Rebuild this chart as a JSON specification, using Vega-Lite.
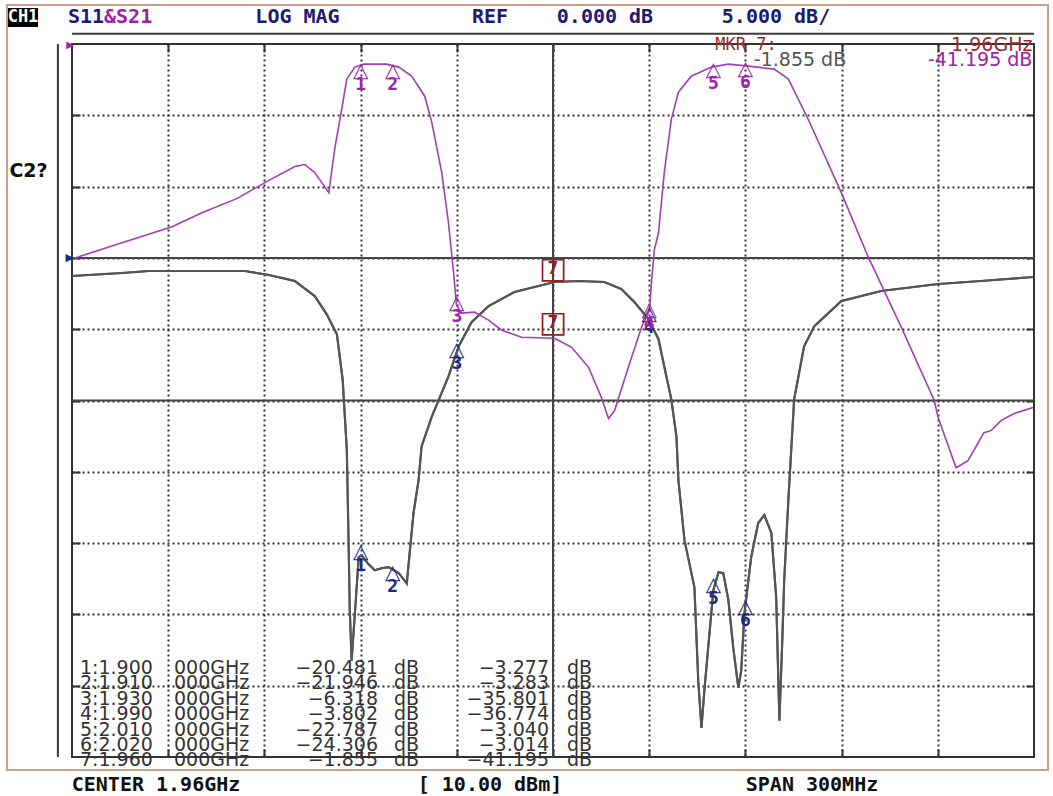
{
  "$schema": "https://vega.github.io/schema/vega-lite/v6.json",
  "width": 962,
  "height": 713,
  "autosize": "none",
  "padding": {"left": 72, "top": 44, "right": 19, "bottom": 39},
  "background": "white",
  "config": {"view": {"stroke": "#333333", "strokeWidth": 2}},
  "datasets": {
    "s11": [
      {"f":1.8100,"db":-1.27},{"f":1.8256,"db":-1.06},{"f":1.8340,"db":-0.92},{"f":1.8639,"db":-0.92},{"f":1.8714,"db":-1.20},{"f":1.8795,"db":-1.62},{"f":1.8857,"db":-2.68},{"f":1.8894,"db":-3.94},{"f":1.8926,"db":-5.35},{"f":1.8944,"db":-8.52},{"f":1.8957,"db":-13.45},{"f":1.8963,"db":-20.49},{"f":1.8966,"db":-24.51},{"f":1.8972,"db":-28.24},{"f":1.8985,"db":-24.01},{"f":1.8994,"db":-20.99},{"f":1.9003,"db":-20.85},{"f":1.9022,"db":-21.41},{"f":1.9044,"db":-21.90},{"f":1.9066,"db":-21.76},{"f":1.9088,"db":-21.69},{"f":1.9119,"db":-22.11},{"f":1.9144,"db":-22.82},{"f":1.9150,"db":-21.41},{"f":1.9165,"db":-17.89},{"f":1.9181,"db":-15.56},{"f":1.9190,"db":-13.24},{"f":1.9222,"db":-11.13},{"f":1.9274,"db":-8.31},{"f":1.9306,"db":-6.20},{"f":1.9346,"db":-4.51},{"f":1.9399,"db":-3.38},{"f":1.9480,"db":-2.39},{"f":1.9605,"db":-1.69},{"f":1.9679,"db":-1.62},{"f":1.9760,"db":-1.69},{"f":1.9813,"db":-2.18},{"f":1.9854,"db":-3.10},{"f":1.9898,"db":-4.30},{"f":1.9929,"db":-5.70},{"f":1.9947,"db":-7.61},{"f":1.9969,"db":-9.93},{"f":1.9985,"db":-12.54},{"f":1.9991,"db":-15.56},{"f":2.0010,"db":-19.79},{"f":2.0041,"db":-23.10},{"f":2.0053,"db":-29.65},{"f":2.0063,"db":-32.96},{"f":2.0072,"db":-30.35},{"f":2.0084,"db":-27.32},{"f":2.0100,"db":-23.31},{"f":2.0116,"db":-22.04},{"f":2.0131,"db":-22.11},{"f":2.0147,"db":-24.01},{"f":2.0162,"db":-27.32},{"f":2.0178,"db":-30.14},{"f":2.0187,"db":-28.94},{"f":2.0197,"db":-24.93},{"f":2.0218,"db":-20.99},{"f":2.0240,"db":-18.59},{"f":2.0259,"db":-18.03},{"f":2.0281,"db":-19.30},{"f":2.0296,"db":-23.80},{"f":2.0306,"db":-32.46},{"f":2.0315,"db":-26.83},{"f":2.0321,"db":-22.61},{"f":2.0334,"db":-16.97},{"f":2.0352,"db":-9.93},{"f":2.0383,"db":-6.20},{"f":2.0415,"db":-4.79},{"f":2.0499,"db":-3.03},{"f":2.0623,"db":-2.32},{"f":2.0801,"db":-1.83},{"f":2.0935,"db":-1.62},{"f":2.1097,"db":-1.34}
    ],
    "s21": [
      {"f":1.8100,"db":-30.14},{"f":1.8256,"db":-27.89},{"f":1.8412,"db":-25.63},{"f":1.8505,"db":-23.66},{"f":1.8614,"db":-21.69},{"f":1.8707,"db":-19.30},{"f":1.8795,"db":-17.18},{"f":1.8826,"db":-16.90},{"f":1.8857,"db":-18.03},{"f":1.8901,"db":-20.85},{"f":1.8919,"db":-14.79},{"f":1.8941,"db":-9.15},{"f":1.8957,"db":-4.93},{"f":1.8982,"db":-3.24},{"f":1.9010,"db":-2.82},{"f":1.9081,"db":-2.82},{"f":1.9119,"db":-3.24},{"f":1.9159,"db":-4.51},{"f":1.9200,"db":-7.32},{"f":1.9222,"db":-10.99},{"f":1.9253,"db":-18.03},{"f":1.9274,"db":-25.07},{"f":1.9290,"db":-32.11},{"f":1.9299,"db":-36.62},{"f":1.9315,"db":-37.75},{"f":1.9355,"db":-37.61},{"f":1.9399,"db":-38.73},{"f":1.9440,"db":-40.14},{"f":1.9502,"db":-41.13},{"f":1.9605,"db":-41.27},{"f":1.9658,"db":-42.54},{"f":1.9711,"db":-45.35},{"f":1.9751,"db":-49.58},{"f":1.9773,"db":-52.54},{"f":1.9792,"db":-51.41},{"f":1.9835,"db":-45.35},{"f":1.9876,"db":-39.72},{"f":1.9901,"db":-37.32},{"f":1.9907,"db":-33.52},{"f":1.9916,"db":-28.87},{"f":1.9929,"db":-26.48},{"f":1.9947,"db":-18.03},{"f":1.9969,"db":-10.56},{"f":1.9991,"db":-6.76},{"f":2.0031,"db":-4.51},{"f":2.0094,"db":-3.24},{"f":2.0147,"db":-2.82},{"f":2.0209,"db":-3.10},{"f":2.0290,"db":-3.52},{"f":2.0334,"db":-4.93},{"f":2.0365,"db":-7.75},{"f":2.0396,"db":-10.56},{"f":2.0499,"db":-20.85},{"f":2.0583,"db":-29.86},{"f":2.0686,"db":-39.72},{"f":2.0789,"db":-50.00},{"f":2.0801,"db":-52.39},{"f":2.0857,"db":-59.44},{"f":2.0894,"db":-58.45},{"f":2.0944,"db":-54.51},{"f":2.0966,"db":-54.23},{"f":2.0997,"db":-52.82},{"f":2.1038,"db":-51.83},{"f":2.1097,"db":-50.99}
    ],
    "markers": [
      {"m":1,"f":1.900,"s11":-20.481,"s21":-3.277},
      {"m":2,"f":1.910,"s11":-21.946,"s21":-3.283},
      {"m":3,"f":1.930,"s11":-6.318,"s21":-35.801},
      {"m":4,"f":1.990,"s11":-3.802,"s21":-36.774},
      {"m":5,"f":2.010,"s11":-22.787,"s21":-3.040},
      {"m":6,"f":2.020,"s11":-24.306,"s21":-3.014},
      {"m":7,"f":1.960,"s11":-1.855,"s21":-41.195}
    ],
    "one": [{}]
  },
  "resolve": {"scale": {"x": "independent", "y": "independent"}, "axis": {"x": "independent", "y": "independent"}},
  "layer": [
    {
      "data": {"name": "one"},
      "mark": {"type": "rect", "fill": null, "fillOpacity": 0, "stroke": "#c9a08c", "strokeWidth": 2},
      "encoding": {
        "x": {"datum": 1.78973, "type": "quantitative", "scale": {"domain": [1.81, 2.11], "nice": false, "zero": false}, "axis": null},
        "x2": {"datum": 2.11437},
        "y": {"datum": 17.735, "type": "quantitative", "scale": {"domain": [-35, 15], "nice": false, "zero": false}, "axis": null},
        "y2": {"datum": -35.91}
      }
    },
    {
      "data": {"name": "one"},
      "mark": {"type": "rule", "color": "#3a3a3a", "strokeWidth": 2},
      "encoding": {
        "x": {"datum": 1.8056, "type": "quantitative", "scale": {"domain": [1.81, 2.11], "nice": false, "zero": false}, "axis": null}
      }
    },
    {
      "data": {"name": "one"},
      "mark": {"type": "rule", "color": "#3a3a3a", "strokeWidth": 2},
      "encoding": {
        "y": {"datum": 15.72, "type": "quantitative", "scale": {"domain": [-35, 15], "nice": false, "zero": false}, "axis": null}
      }
    },
    {
      "data": {"name": "one"},
      "mark": {"type": "rect", "fill": "#000000"},
      "encoding": {
        "x": {"datum": 1.79004, "type": "quantitative", "scale": {"domain": [1.81, 2.11], "nice": false, "zero": false}, "axis": null},
        "x2": {"datum": 1.79940},
        "y": {"datum": 17.525, "type": "quantitative", "scale": {"domain": [-35, 15], "nice": false, "zero": false}, "axis": null},
        "y2": {"datum": 16.19}
      }
    },
    {
      "data": {"name": "s11"},
      "mark": {"type": "line", "color": "#555555", "strokeWidth": 2},
      "encoding": {
        "x": {"field": "f", "type": "quantitative", "scale": {"domain": [1.81, 2.11], "nice": false, "zero": false},
          "axis": {"orient": "bottom", "values": [1.84, 1.87, 1.9, 1.93, 1.96, 1.99, 2.02, 2.05, 2.08], "labels": false, "title": null, "domain": false, "ticks": true, "tickSize": -8, "tickColor": "#333333", "tickWidth": 2, "grid": true, "gridDash": [2, 3], "gridColor": "#333333", "gridWidth": 2, "gridOpacity": 1}},
        "y": {"field": "db", "type": "quantitative", "scale": {"domain": [-35, 15], "nice": false, "zero": false},
          "axis": {"orient": "left", "values": [-30, -25, -20, -15, -10, -5, 0, 5, 10], "labels": false, "title": null, "domain": false, "ticks": true, "tickSize": -8, "tickColor": "#333333", "tickWidth": 2, "grid": true, "gridDash": [2, 3], "gridColor": "#333333", "gridWidth": 2, "gridOpacity": 1}}
      }
    },
    {
      "data": {"name": "one"},
      "mark": {"type": "rule", "color": "#444444", "strokeWidth": 2},
      "encoding": {
        "y": {"datum": 0, "type": "quantitative", "scale": {"domain": [-35, 15], "nice": false, "zero": false}, "axis": null}
      }
    },
    {
      "data": {"name": "one"},
      "mark": {"type": "rule", "color": "#444444", "strokeWidth": 2},
      "encoding": {
        "y": {"datum": -10, "type": "quantitative", "scale": {"domain": [-35, 15], "nice": false, "zero": false}, "axis": null}
      }
    },
    {
      "data": {"name": "one"},
      "mark": {"type": "rule", "color": "#444444", "strokeWidth": 2},
      "encoding": {
        "x": {"datum": 1.96, "type": "quantitative", "scale": {"domain": [1.81, 2.11], "nice": false, "zero": false}, "axis": null}
      }
    },
    {
      "data": {"name": "s11"},
      "mark": {"type": "line", "color": "#555555", "strokeWidth": 2.2},
      "encoding": {
        "x": {"field": "f", "type": "quantitative", "scale": {"domain": [1.81, 2.11], "nice": false, "zero": false}, "axis": null},
        "y": {"field": "db", "type": "quantitative", "scale": {"domain": [-35, 15], "nice": false, "zero": false}, "axis": null}
      }
    },
    {
      "data": {"name": "s21"},
      "mark": {"type": "line", "color": "#a23fb3", "strokeWidth": 1.6},
      "encoding": {
        "x": {"field": "f", "type": "quantitative", "scale": {"domain": [1.81, 2.11], "nice": false, "zero": false},
          "axis": {"orient": "top", "values": [1.84, 1.87, 1.9, 1.93, 1.96, 1.99, 2.02, 2.05, 2.08], "labels": false, "title": null, "domain": false, "ticks": true, "tickSize": -8, "tickColor": "#333333", "tickWidth": 2, "grid": false}},
        "y": {"field": "db", "type": "quantitative", "scale": {"domain": [-100, 0], "nice": false, "zero": false},
          "axis": {"orient": "right", "values": [-90, -80, -70, -60, -50, -40, -30, -20, -10], "labels": false, "title": null, "domain": false, "ticks": true, "tickSize": -8, "tickColor": "#333333", "tickWidth": 2, "grid": false}}
      }
    },
    {
      "data": {"name": "markers"},
      "transform": [{"filter": "datum.m != 7"}],
      "layer": [
        {"mark": {"type": "text", "text": "△", "font": "DejaVu Sans", "fontSize": 20, "fontWeight": "bold", "color": "#1c2a80", "baseline": "middle", "dy": 2}},
        {"mark": {"type": "text", "font": "DejaVu Sans Mono", "fontSize": 18, "fontWeight": "bold", "color": "#1c2a80", "baseline": "middle", "dy": 16}, "encoding": {"text": {"field": "m"}}}
      ],
      "encoding": {
        "x": {"field": "f", "type": "quantitative", "scale": {"domain": [1.81, 2.11], "nice": false, "zero": false}, "axis": null},
        "y": {"field": "s11", "type": "quantitative", "scale": {"domain": [-35, 15], "nice": false, "zero": false}, "axis": null}
      }
    },
    {
      "data": {"name": "markers"},
      "transform": [{"filter": "datum.m != 7"}],
      "layer": [
        {"mark": {"type": "text", "text": "△", "font": "DejaVu Sans", "fontSize": 20, "fontWeight": "bold", "color": "#a020b0", "baseline": "middle", "dy": 4}},
        {"mark": {"type": "text", "font": "DejaVu Sans Mono", "fontSize": 18, "fontWeight": "bold", "color": "#a020b0", "baseline": "middle", "dy": 18}, "encoding": {"text": {"field": "m"}}}
      ],
      "encoding": {
        "x": {"field": "f", "type": "quantitative", "scale": {"domain": [1.81, 2.11], "nice": false, "zero": false}, "axis": null},
        "y": {"field": "s21", "type": "quantitative", "scale": {"domain": [-100, 0], "nice": false, "zero": false}, "axis": null}
      }
    },
    {
      "data": {"name": "markers"},
      "transform": [{"filter": "datum.m == 7"}],
      "layer": [
        {"mark": {"type": "text", "text": "□", "font": "DejaVu Sans", "fontSize": 30, "color": "#9b1c1c", "baseline": "middle", "dy": -15}},
        {"mark": {"type": "text", "font": "DejaVu Sans Mono", "fontSize": 18, "fontWeight": "bold", "color": "#9b1c1c", "baseline": "middle", "dy": -15}, "encoding": {"text": {"field": "m"}}}
      ],
      "encoding": {
        "x": {"field": "f", "type": "quantitative", "scale": {"domain": [1.81, 2.11], "nice": false, "zero": false}, "axis": null},
        "y": {"field": "s11", "type": "quantitative", "scale": {"domain": [-35, 15], "nice": false, "zero": false}, "axis": null}
      }
    },
    {
      "data": {"name": "markers"},
      "transform": [{"filter": "datum.m == 7"}],
      "layer": [
        {"mark": {"type": "text", "text": "□", "font": "DejaVu Sans", "fontSize": 30, "color": "#9b1c1c", "baseline": "middle", "dy": -15}},
        {"mark": {"type": "text", "font": "DejaVu Sans Mono", "fontSize": 18, "fontWeight": "bold", "color": "#9b1c1c", "baseline": "middle", "dy": -15}, "encoding": {"text": {"field": "m"}}}
      ],
      "encoding": {
        "x": {"field": "f", "type": "quantitative", "scale": {"domain": [1.81, 2.11], "nice": false, "zero": false}, "axis": null},
        "y": {"field": "s21", "type": "quantitative", "scale": {"domain": [-100, 0], "nice": false, "zero": false}, "axis": null}
      }
    },
    {
      "data": {"name": "markers"},
      "transform": [{"calculate": "datum.m + ':' + format(datum.f, '.3f')", "as": "label"}],
      "layer": [
        {"mark": {"type": "text", "font": "DejaVu Sans", "fontSize": 19, "color": "#333333", "align": "left", "baseline": "middle"},
          "encoding": {"x": {"datum": 1.81249, "type": "quantitative", "scale": {"domain": [1.81, 2.11], "nice": false, "zero": false}, "axis": null}, "text": {"field": "label"}}},
        {"mark": {"type": "text", "text": "000GHz", "font": "DejaVu Sans", "fontSize": 19, "color": "#333333", "align": "left", "baseline": "middle"},
          "encoding": {"x": {"datum": 1.84181, "type": "quantitative", "scale": {"domain": [1.81, 2.11], "nice": false, "zero": false}, "axis": null}}},
        {"mark": {"type": "text", "font": "DejaVu Sans", "fontSize": 19, "color": "#333333", "align": "right", "baseline": "middle"},
          "encoding": {"x": {"datum": 1.90543, "type": "quantitative", "scale": {"domain": [1.81, 2.11], "nice": false, "zero": false}, "axis": null}, "text": {"field": "s11", "format": ".3f"}}},
        {"mark": {"type": "text", "text": "dB", "font": "DejaVu Sans", "fontSize": 19, "color": "#333333", "align": "left", "baseline": "middle"},
          "encoding": {"x": {"datum": 1.91042, "type": "quantitative", "scale": {"domain": [1.81, 2.11], "nice": false, "zero": false}, "axis": null}}},
        {"mark": {"type": "text", "font": "DejaVu Sans", "fontSize": 19, "color": "#333333", "align": "right", "baseline": "middle"},
          "encoding": {"x": {"datum": 1.95875, "type": "quantitative", "scale": {"domain": [1.81, 2.11], "nice": false, "zero": false}, "axis": null}, "text": {"field": "s21", "format": ".3f"}}},
        {"mark": {"type": "text", "text": "dB", "font": "DejaVu Sans", "fontSize": 19, "color": "#333333", "align": "left", "baseline": "middle"},
          "encoding": {"x": {"datum": 1.96437, "type": "quantitative", "scale": {"domain": [1.81, 2.11], "nice": false, "zero": false}, "axis": null}}}
      ],
      "encoding": {
        "y": {"field": "m", "type": "quantitative", "scale": {"domain": [-39.52, 6.78], "reverse": true, "nice": false, "zero": false}, "axis": null}
      }
    },
    {
      "data": {"name": "one"},
      "mark": {"type": "text", "text": "CH1", "font": "DejaVu Sans Mono", "fontWeight": "bold", "fontSize": 17, "color": "white", "align": "center", "baseline": "middle"},
      "encoding": {
        "x": {"datum": 1.79472, "type": "quantitative", "scale": {"domain": [1.81, 2.11], "nice": false, "zero": false}, "axis": null},
        "y": {"datum": 16.86, "type": "quantitative", "scale": {"domain": [-35, 15], "nice": false, "zero": false}, "axis": null}
      }
    },
    {
      "data": {"name": "one"},
      "mark": {"type": "text", "text": "S11", "font": "DejaVu Sans Mono", "fontWeight": "bold", "fontSize": 20, "color": "#1c1c70", "align": "right", "baseline": "middle"},
      "encoding": {
        "x": {"datum": 1.81998, "type": "quantitative", "scale": {"domain": [1.81, 2.11], "nice": false, "zero": false}, "axis": null},
        "y": {"datum": 16.89, "type": "quantitative", "scale": {"domain": [-35, 15], "nice": false, "zero": false}, "axis": null}
      }
    },
    {
      "data": {"name": "one"},
      "mark": {"type": "text", "text": "&S21", "font": "DejaVu Sans Mono", "fontWeight": "bold", "fontSize": 20, "color": "#a020a8", "align": "left", "baseline": "middle"},
      "encoding": {
        "x": {"datum": 1.81998, "type": "quantitative", "scale": {"domain": [1.81, 2.11], "nice": false, "zero": false}, "axis": null},
        "y": {"datum": 16.89, "type": "quantitative", "scale": {"domain": [-35, 15], "nice": false, "zero": false}, "axis": null}
      }
    },
    {
      "data": {"name": "one"},
      "mark": {"type": "text", "text": "LOG MAG", "font": "DejaVu Sans Mono", "fontWeight": "bold", "fontSize": 20, "color": "#1c1c70", "align": "center", "baseline": "middle"},
      "encoding": {
        "x": {"datum": 1.88032, "type": "quantitative", "scale": {"domain": [1.81, 2.11], "nice": false, "zero": false}, "axis": null},
        "y": {"datum": 16.89, "type": "quantitative", "scale": {"domain": [-35, 15], "nice": false, "zero": false}, "axis": null}
      }
    },
    {
      "data": {"name": "one"},
      "mark": {"type": "text", "text": "REF", "font": "DejaVu Sans Mono", "fontWeight": "bold", "fontSize": 20, "color": "#1c1c70", "align": "center", "baseline": "middle"},
      "encoding": {
        "x": {"datum": 1.94035, "type": "quantitative", "scale": {"domain": [1.81, 2.11], "nice": false, "zero": false}, "axis": null},
        "y": {"datum": 16.89, "type": "quantitative", "scale": {"domain": [-35, 15], "nice": false, "zero": false}, "axis": null}
      }
    },
    {
      "data": {"name": "one"},
      "mark": {"type": "text", "text": "0.000 dB", "font": "DejaVu Sans Mono", "fontWeight": "bold", "fontSize": 20, "color": "#1c1c70", "align": "center", "baseline": "middle"},
      "encoding": {
        "x": {"datum": 1.97621, "type": "quantitative", "scale": {"domain": [1.81, 2.11], "nice": false, "zero": false}, "axis": null},
        "y": {"datum": 16.89, "type": "quantitative", "scale": {"domain": [-35, 15], "nice": false, "zero": false}, "axis": null}
      }
    },
    {
      "data": {"name": "one"},
      "mark": {"type": "text", "text": "5.000 dB/", "font": "DejaVu Sans Mono", "fontWeight": "bold", "fontSize": 20, "color": "#1c1c70", "align": "center", "baseline": "middle"},
      "encoding": {
        "x": {"datum": 2.02954, "type": "quantitative", "scale": {"domain": [1.81, 2.11], "nice": false, "zero": false}, "axis": null},
        "y": {"datum": 16.89, "type": "quantitative", "scale": {"domain": [-35, 15], "nice": false, "zero": false}, "axis": null}
      }
    },
    {
      "data": {"name": "one"},
      "mark": {"type": "text", "text": "MKR  7:", "font": "DejaVu Sans Mono", "fontSize": 17, "color": "#9b2a2a", "align": "center", "baseline": "middle"},
      "encoding": {
        "x": {"datum": 2.02019, "type": "quantitative", "scale": {"domain": [1.81, 2.11], "nice": false, "zero": false}, "axis": null},
        "y": {"datum": 14.9, "type": "quantitative", "scale": {"domain": [-35, 15], "nice": false, "zero": false}, "axis": null}
      }
    },
    {
      "data": {"name": "one"},
      "mark": {"type": "text", "text": "1.96GHz", "font": "DejaVu Sans", "fontSize": 19, "color": "#9b2a2a", "align": "right", "baseline": "middle"},
      "encoding": {
        "x": {"datum": 2.1095, "type": "quantitative", "scale": {"domain": [1.81, 2.11], "nice": false, "zero": false}, "axis": null},
        "y": {"datum": 14.9, "type": "quantitative", "scale": {"domain": [-35, 15], "nice": false, "zero": false}, "axis": null}
      }
    },
    {
      "data": {"name": "one"},
      "mark": {"type": "text", "text": "-1.855 dB", "font": "DejaVu Sans", "fontSize": 19, "color": "#555555", "align": "center", "baseline": "middle"},
      "encoding": {
        "x": {"datum": 2.03703, "type": "quantitative", "scale": {"domain": [1.81, 2.11], "nice": false, "zero": false}, "axis": null},
        "y": {"datum": 13.91, "type": "quantitative", "scale": {"domain": [-35, 15], "nice": false, "zero": false}, "axis": null}
      }
    },
    {
      "data": {"name": "one"},
      "mark": {"type": "text", "text": "-41.195 dB", "font": "DejaVu Sans", "fontSize": 19, "color": "#a020a8", "align": "right", "baseline": "middle"},
      "encoding": {
        "x": {"datum": 2.1095, "type": "quantitative", "scale": {"domain": [1.81, 2.11], "nice": false, "zero": false}, "axis": null},
        "y": {"datum": 13.91, "type": "quantitative", "scale": {"domain": [-35, 15], "nice": false, "zero": false}, "axis": null}
      }
    },
    {
      "data": {"name": "one"},
      "mark": {"type": "text", "text": "C2?", "font": "DejaVu Sans", "fontWeight": "bold", "fontSize": 19, "color": "#111111", "align": "center", "baseline": "middle"},
      "encoding": {
        "x": {"datum": 1.79643, "type": "quantitative", "scale": {"domain": [1.81, 2.11], "nice": false, "zero": false}, "axis": null},
        "y": {"datum": 6.094, "type": "quantitative", "scale": {"domain": [-35, 15], "nice": false, "zero": false}, "axis": null}
      }
    },
    {
      "data": {"name": "one"},
      "mark": {"type": "text", "text": "▶", "font": "DejaVu Sans", "fontSize": 10, "color": "#a020b0", "align": "right", "baseline": "middle", "dx": 2},
      "encoding": {
        "x": {"datum": 1.81, "type": "quantitative", "scale": {"domain": [1.81, 2.11], "nice": false, "zero": false}, "axis": null},
        "y": {"datum": 14.9, "type": "quantitative", "scale": {"domain": [-35, 15], "nice": false, "zero": false}, "axis": null}
      }
    },
    {
      "data": {"name": "one"},
      "mark": {"type": "text", "text": "▶", "font": "DejaVu Sans", "fontSize": 11, "color": "#1c2a80", "align": "right", "baseline": "middle", "dx": 2},
      "encoding": {
        "x": {"datum": 1.81, "type": "quantitative", "scale": {"domain": [1.81, 2.11], "nice": false, "zero": false}, "axis": null},
        "y": {"datum": 0, "type": "quantitative", "scale": {"domain": [-35, 15], "nice": false, "zero": false}, "axis": null}
      }
    },
    {
      "data": {"name": "one"},
      "mark": {"type": "text", "text": "CENTER 1.96GHz", "font": "DejaVu Sans Mono", "fontWeight": "bold", "fontSize": 20, "color": "#111111", "align": "center", "baseline": "middle"},
      "encoding": {
        "x": {"datum": 1.83620, "type": "quantitative", "scale": {"domain": [1.81, 2.11], "nice": false, "zero": false}, "axis": null},
        "y": {"datum": -36.96, "type": "quantitative", "scale": {"domain": [-35, 15], "nice": false, "zero": false}, "axis": null}
      }
    },
    {
      "data": {"name": "one"},
      "mark": {"type": "text", "text": "[ 10.00 dBm]", "font": "DejaVu Sans Mono", "fontWeight": "bold", "fontSize": 20, "color": "#111111", "align": "center", "baseline": "middle"},
      "encoding": {
        "x": {"datum": 1.94035, "type": "quantitative", "scale": {"domain": [1.81, 2.11], "nice": false, "zero": false}, "axis": null},
        "y": {"datum": -36.96, "type": "quantitative", "scale": {"domain": [-35, 15], "nice": false, "zero": false}, "axis": null}
      }
    },
    {
      "data": {"name": "one"},
      "mark": {"type": "text", "text": "SPAN 300MHz", "font": "DejaVu Sans Mono", "fontWeight": "bold", "fontSize": 20, "color": "#111111", "align": "center", "baseline": "middle"},
      "encoding": {
        "x": {"datum": 2.04077, "type": "quantitative", "scale": {"domain": [1.81, 2.11], "nice": false, "zero": false}, "axis": null},
        "y": {"datum": -36.96, "type": "quantitative", "scale": {"domain": [-35, 15], "nice": false, "zero": false}, "axis": null}
      }
    }
  ]
}
